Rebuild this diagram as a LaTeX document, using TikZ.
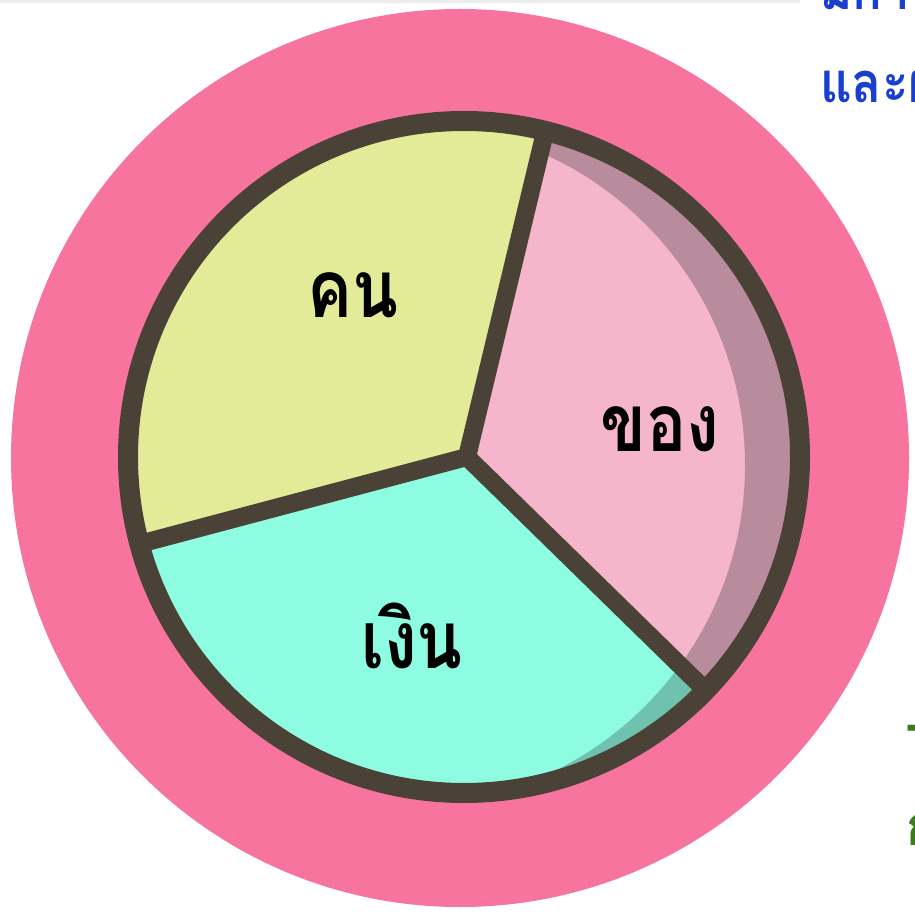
\documentclass[tikz,border=0pt]{standalone}
\usepackage{fontspec}
\usepackage{tikz}
\newfontfamily\thaifont[Script=Thai]{Loma}
\definecolor{ringpink}{HTML}{F7749E}
\definecolor{konyellow}{HTML}{E4EB98}
\definecolor{khongpink}{HTML}{F5B6CC}
\definecolor{ngoencyan}{HTML}{8EFCE0}
\definecolor{khongshade}{HTML}{B88C9C}
\definecolor{ngoenshade}{HTML}{6EC2AE}
\definecolor{rimbrown}{HTML}{4A4236}
\definecolor{sideblue}{HTML}{1A3FD0}
\definecolor{sidegreen}{HTML}{3A7D1A}
\tikzset{
  piename/.style={font=\thaifont\bfseries\fontsize{80}{90}\selectfont,anchor=base,inner sep=0,xscale=0.84},
  sidetext/.style={font=\thaifont\bfseries\fontsize{56}{64}\selectfont,anchor=base west,inner sep=0,xscale=0.88}
}

\begin{document}
\begin{tikzpicture}[x=1pt,y=1pt]
\clip (0,0) rectangle (915,911);
\fill [white] (0,0) rectangle (915,911);
\fill [gray!15] (0,908) rectangle (800,911);
\fill [ringpink] (460,453) circle (449);
\coordinate (c) at (464,454);
\coordinate (hub) at (467,454);
\foreach \a/\name in {76/top,195/left,316/right}
  \coordinate (\name) at ([shift={(\a:336)}]c);
\foreach \a/\b/\col in {76/195/konyellow,195/316/ngoencyan,-44/76/khongpink}
  \fill [\col] (hub) -- ([shift={(\a:336)}]c) arc (\a:\b:336) -- cycle;
\foreach \a/\b/\col in {195/316/ngoenshade,-44/76/khongshade} {
  \begin{scope}
    \clip (hub) -- ([shift={(\a:336)}]c) arc (\a:\b:336) -- cycle;
    \fill [\col,even odd rule] (c) circle (336) ([shift={(-60,-8)}]c) circle (341);
  \end{scope}
}
\draw [rimbrown,line width=20pt] (c) circle (336);
\draw [rimbrown,line width=18pt,line join=round] (top) -- (hub) -- (left) (hub) -- (right);
\node [piename] (kon) at (353,593) {คน};
\node [piename] (khong) at (660,459) {ของ};
\node [piename] (ngoen) at (412,243) {เงิน};
\node [sidetext,text=sideblue] (line1) at (820,901) {มีการ};
\node [sidetext,text=sideblue] (line2) at (820,808) {และผล};
\node [sidetext,text=sidegreen] (line3) at (906,169) {-};
\node [sidetext,text=sidegreen] (line4) at (906,66) {ก};
\end{tikzpicture}
\end{document}
